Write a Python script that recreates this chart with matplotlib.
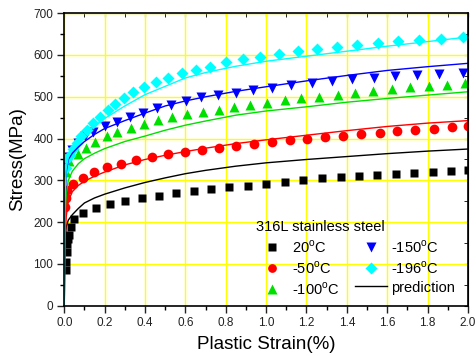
import numpy as np
import matplotlib.pyplot as plt
from matplotlib.ticker import MultipleLocator, FormatStrFormatter

plt.rcParams['font.family'] = ['Liberation Sans', 'DejaVu Sans']
plt.rcParams['mathtext.fontset'] = 'custom'
plt.rcParams['mathtext.rm'] = 'Liberation Sans'

# ---------------- measured points ----------------
x_20 = [0.008, 0.010, 0.012, 0.015, 0.019, 0.023, 0.031, 0.050, 0.094, 0.156,
        0.227, 0.302, 0.385, 0.470, 0.555, 0.643, 0.729, 0.818, 0.911, 1.000,
        1.093, 1.185, 1.276, 1.369, 1.460, 1.550, 1.643, 1.735, 1.826, 1.918, 2.000]
s_20 = [85, 105, 129, 149, 160, 169, 189, 207, 221, 233,
        243, 251, 257, 263, 270, 275, 279, 283, 287, 292,
        296, 301, 305, 307, 310, 313, 315, 318, 320, 322, 325]

x_50 = [0.004, 0.008, 0.015, 0.045, 0.094, 0.147, 0.212, 0.283, 0.357, 0.435,
        0.516, 0.600, 0.684, 0.768, 0.851, 0.942, 1.030, 1.117, 1.205, 1.293,
        1.382, 1.471, 1.562, 1.651, 1.740, 1.830, 1.921, 2.000]
s_50 = [237, 258, 277, 291, 305, 321, 331, 340, 348, 355,
        362, 368, 373, 378, 383, 387, 391, 396, 400, 404,
        407, 410, 413, 417, 421, 424, 427, 429]

x_100 = [0.010, 0.023, 0.066, 0.106, 0.154, 0.210, 0.263, 0.329, 0.394, 0.463,
         0.534, 0.608, 0.688, 0.766, 0.843, 0.922, 1.005, 1.093, 1.175, 1.264,
         1.355, 1.441, 1.532, 1.626, 1.715, 1.807, 1.897, 1.988]
s_100 = [320, 346, 363, 378, 393, 405, 416, 425, 435, 445,
         451, 458, 464, 469, 475, 480, 485, 492, 496, 500,
         505, 510, 515, 519, 523, 526, 529, 532]

x_150 = [0.010, 0.023, 0.040, 0.066, 0.101, 0.142, 0.203, 0.263, 0.326, 0.392,
         0.458, 0.529, 0.602, 0.678, 0.760, 0.851, 0.934, 1.030, 1.125, 1.227,
         1.327, 1.428, 1.535, 1.641, 1.749, 1.859, 1.975]
s_150 = [340, 357, 373, 390, 405, 415, 429, 440, 452, 462,
         472, 480, 491, 499, 504, 510, 516, 522, 527, 533,
         538, 542, 546, 549, 552, 555, 558]

x_196 = [0.008, 0.015, 0.027, 0.042, 0.063, 0.084, 0.114, 0.142, 0.177, 0.215,
         0.251, 0.297, 0.342, 0.397, 0.453, 0.516, 0.584, 0.653, 0.724, 0.803,
         0.887, 0.972, 1.064, 1.157, 1.251, 1.350, 1.451, 1.554, 1.656, 1.760,
         1.869, 1.978]
s_196 = [330, 350, 360, 375, 389, 405, 420, 437, 451, 469,
         482, 497, 511, 523, 535, 545, 556, 565, 572, 583,
         590, 596, 603, 609, 614, 619, 624, 629, 633, 636,
         639, 643]

# ---------------- prediction curves ----------------
xp = [0, 0.002, 0.005, 0.01, 0.02, 0.04, 0.07, 0.1, 0.15, 0.2, 0.3, 0.4,
      0.5, 0.6, 0.7, 0.85, 1.0, 1.2, 1.4, 1.6, 1.8, 2.0]
p_20 = [0, 100, 160, 190, 205, 218, 233, 246, 258, 267, 282, 295,
        306, 316, 324, 334, 342, 350, 357, 364, 370, 375]
p_50 = [0, 110, 170, 215, 250, 273, 288, 298, 310, 320, 337, 350,
        360, 369, 377, 388, 397, 408, 419, 429, 437, 443]
p_100 = [0, 150, 230, 270, 300, 322, 340, 352, 365, 376, 393, 406,
         420, 432, 442, 456, 466, 476, 487, 496, 504, 512]
p_150 = [0, 170, 260, 320, 350, 365, 380, 393, 410, 424, 443, 461,
         478, 490, 500, 513, 524, 538, 551, 563, 572, 580]
p_196 = [0, 180, 280, 330, 355, 375, 395, 410, 430, 448, 478, 505,
         525, 545, 558, 573, 585, 597, 609, 621, 632, 643]

fig = plt.figure(figsize=(4.76, 3.56), dpi=100)
ax = fig.add_axes([0.135, 0.141, 0.848, 0.822])

ax.grid(True, which='major', color='#FFFF00', linewidth=1.0, zorder=0)
ax.set_axisbelow(True)

ax.plot(x_20, s_20, 's', color='black', ms=6, mec='none', label='20$^{\\rm o}$C')
ax.plot(x_50, s_50, 'o', color='#FF0000', ms=7, mec='none', label='-50$^{\\rm o}$C')
ax.plot(x_100, s_100, '^', color='#00E000', ms=7.5, mec='none', label='-100$^{\\rm o}$C')
ax.plot(x_150, s_150, 'v', color='#0000FF', ms=7.5, mec='none', label='-150$^{\\rm o}$C')
ax.plot(x_196, s_196, 'D', color='#00FFFF', ms=6.5, mec='none', label='-196$^{\\rm o}$C')

ax.plot(xp, p_20, '-', color='black', lw=1.0, label='prediction')
ax.plot(xp, p_50, '-', color='#FF0000', lw=1.0)
ax.plot(xp, p_100, '-', color='#00E000', lw=1.0)
ax.plot(xp, p_150, '-', color='#0000FF', lw=1.0)
ax.plot(xp, p_196, '-', color='#00FFFF', lw=1.0)

ax.set_xlim(0, 2.0)
ax.set_ylim(0, 700)
ax.xaxis.set_major_locator(MultipleLocator(0.2))
ax.xaxis.set_minor_locator(MultipleLocator(0.1))
ax.yaxis.set_major_locator(MultipleLocator(100))
ax.yaxis.set_minor_locator(MultipleLocator(50))
ax.xaxis.set_major_formatter(FormatStrFormatter('%.1f'))
ax.tick_params(which='major', direction='out', length=5, width=1, pad=3,
               labelsize=8.5, colors='#222222')
ax.tick_params(which='minor', direction='out', length=3, width=1)
for sp in ax.spines.values():
    sp.set_linewidth(1.2)

# inward ticks on top and right
top = ax.secondary_xaxis('top')
top.xaxis.set_major_locator(MultipleLocator(0.2))
top.xaxis.set_minor_locator(MultipleLocator(0.1))
top.tick_params(which='both', direction='in', labeltop=False, length=3)
right = ax.secondary_yaxis('right')
right.yaxis.set_major_locator(MultipleLocator(100))
right.yaxis.set_minor_locator(MultipleLocator(50))
right.tick_params(which='both', direction='in', labelright=False, length=3)

ax.set_xlabel('Plastic Strain(%)', fontsize=13.5, labelpad=5)
ax.set_ylabel('Stress(MPa)', fontsize=13.5, labelpad=5)

leg = ax.legend(ncol=2, loc='upper left', bbox_to_anchor=(0.475, 0.293),
                frameon=False, title='316L stainless steel', title_fontsize=10.5,
                fontsize=10.5, alignment='left', borderpad=0, handlelength=2.2,
                handletextpad=0.3, columnspacing=1.0, labelspacing=0.3,
                borderaxespad=0, markerscale=0.9)

fig.savefig('out.png', dpi=100)
